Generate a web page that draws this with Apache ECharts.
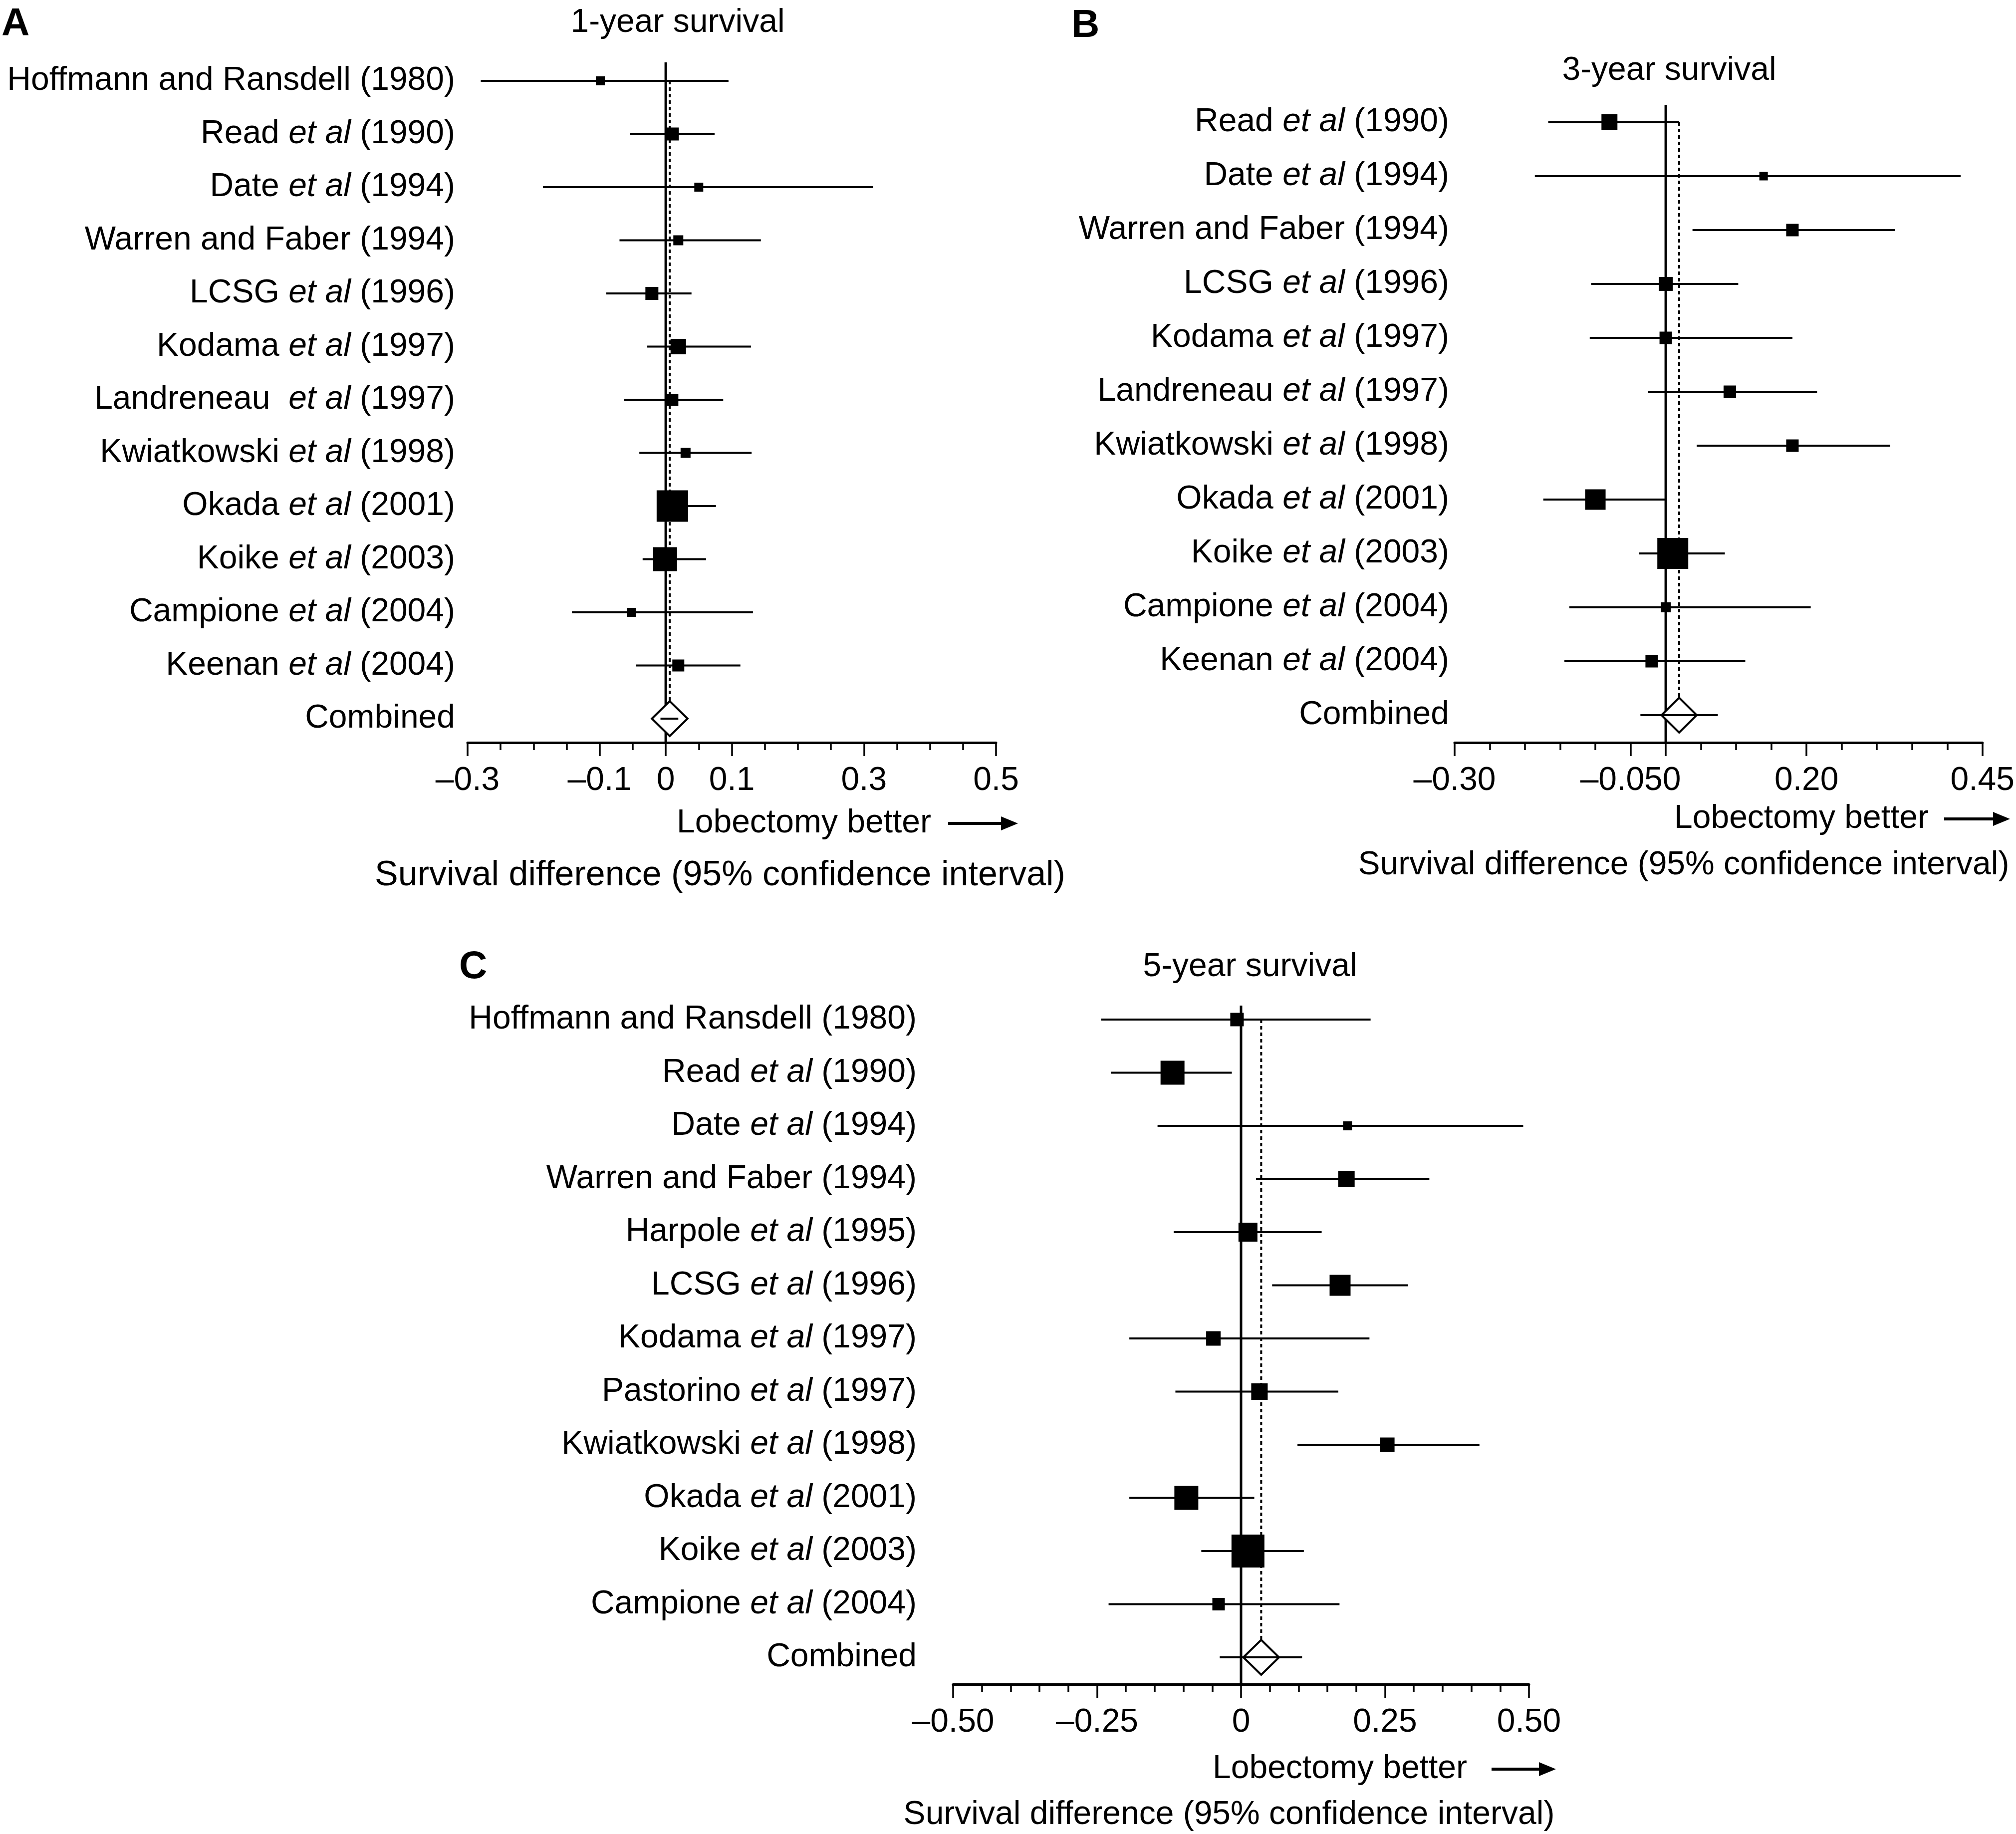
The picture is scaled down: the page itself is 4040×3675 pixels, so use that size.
<!DOCTYPE html>
<html><head><meta charset="utf-8">
<script src="https://cdn.jsdelivr.net/npm/echarts@6/dist/echarts.min.js"></script>
<style>html,body{margin:0;padding:0;background:#fff}#c{width:4040px;height:3675px}</style>
</head><body><div id="c"></div>
<script>
// ---------- Panel A: 1-year survival ----------
const studiesA = ['Hoffmann and Ransdell (1980)','Read et al (1990)','Date et al (1994)','Warren and Faber (1994)','LCSG et al (1996)','Kodama et al (1997)','Landreneau  et al (1997)','Kwiatkowski et al (1998)','Okada et al (2001)','Koike et al (2003)','Campione et al (2004)','Keenan et al (2004)','Combined'];
const estA    = [-0.099, 0.010, 0.050, 0.019, -0.021, 0.019, 0.010, 0.030, 0.010, -0.001, -0.052, 0.019];
const lowA    = [-0.280, -0.054, -0.186, -0.070, -0.090, -0.028, -0.063, -0.040, -0.012, -0.035, -0.142, -0.045];
const highA   = [0.095, 0.074, 0.314, 0.144, 0.039, 0.129, 0.087, 0.130, 0.076, 0.061, 0.132, 0.113];
const weightA = [18, 26, 18, 20, 26, 31, 24, 20, 63, 48, 18, 24];
// combined: estimate, diamond low, diamond high, line low, line high
const pooledA = [0.006, -0.021, 0.033, -0.008, 0.019];
const tickValsA = [-0.3, -0.1, 0, 0.1, 0.3, 0.5];
const tickLabelsA = ['\u20130.3', '\u20130.1', '0', '0.1', '0.3', '0.5'];
const majorTicksA = [-0.3, -0.1, 0, 0.1, 0.3, 0.5];

// ---------- Panel B: 3-year survival ----------
const studiesB = ['Read et al (1990)','Date et al (1994)','Warren and Faber (1994)','LCSG et al (1996)','Kodama et al (1997)','Landreneau et al (1997)','Kwiatkowski et al (1998)','Okada et al (2001)','Koike et al (2003)','Campione et al (2004)','Keenan et al (2004)','Combined'];
const estB    = [-0.080, 0.139, 0.180, 0.000, 0.000, 0.091, 0.180, -0.100, 0.010, 0.000, -0.020];
const lowB    = [-0.167, -0.186, 0.038, -0.106, -0.108, -0.025, 0.044, -0.174, -0.038, -0.137, -0.144];
const highB   = [0.019, 0.419, 0.326, 0.103, 0.180, 0.215, 0.319, 0.000, 0.084, 0.206, 0.113];
const weightB = [32, 17, 25, 28, 25, 25, 25, 41, 62, 20, 25];
const pooledB = [0.019, -0.006, 0.044, -0.036, 0.074];
const tickValsB = [-0.30, -0.05, 0.20, 0.45];
const tickLabelsB = ['\u20130.30', '\u20130.050', '0.20', '0.45'];
const majorTicksB = [-0.30, -0.05, 0, 0.20, 0.45];

// ---------- Panel C: 5-year survival ----------
const studiesC = ['Hoffmann and Ransdell (1980)','Read et al (1990)','Date et al (1994)','Warren and Faber (1994)','Harpole et al (1995)','LCSG et al (1996)','Kodama et al (1997)','Pastorino et al (1997)','Kwiatkowski et al (1998)','Okada et al (2001)','Koike et al (2003)','Campione et al (2004)','Combined'];
const estC    = [-0.007, -0.119, 0.185, 0.183, 0.012, 0.172, -0.048, 0.032, 0.254, -0.095, 0.012, -0.039];
const lowC    = [-0.243, -0.226, -0.145, 0.026, -0.117, 0.054, -0.194, -0.114, 0.098, -0.194, -0.069, -0.230];
const highC   = [0.225, -0.016, 0.490, 0.327, 0.140, 0.290, 0.223, 0.169, 0.414, 0.023, 0.109, 0.171];
const weightC = [27, 48, 18, 33, 38, 42, 29, 33, 29, 48, 66, 25];
const pooledC = [0.035, 0.004, 0.066, -0.037, 0.106];
const tickValsC = [-0.50, -0.25, 0, 0.25, 0.50];
const tickLabelsC = ['\u20130.50', '\u20130.25', '0', '0.25', '0.50'];
const majorTicksC = [-0.50, -0.25, 0, 0.25, 0.50];

// ---------- layout (pixels) ----------
const FONT = "'Liberation Sans', Arial, Helvetica, sans-serif";
const FS = 66;
const panels = [
  {key:'A', studies:studiesA, est:estA, low:lowA, high:highA, w:weightA, pooled:pooledA, xmin:-0.3, xmax:0.5,
   tickVals:tickValsA, tickLabels:tickLabelsA, major:majorTicksA,
   L:{left:937, right:1996, top:125, axisY:1488, row0:162, rowC:1440, labelRight:912}},
  {key:'B', studies:studiesB, est:estB, low:lowB, high:highB, w:weightB, pooled:pooledB, xmin:-0.3, xmax:0.45,
   tickVals:tickValsB, tickLabels:tickLabelsB, major:majorTicksB,
   L:{left:2915, right:3975, top:210, axisY:1488, row0:245, rowC:1433, labelRight:2904}},
  {key:'C', studies:studiesC, est:estC, low:lowC, high:highC, w:weightC, pooled:pooledC, xmin:-0.5, xmax:0.5,
   tickVals:tickValsC, tickLabels:tickLabelsC, major:majorTicksC,
   L:{left:1910, right:3064, top:2015, axisY:3375, row0:2043, rowC:3321, labelRight:1837}}
];

function richName(s) {
  if (s.indexOf('et al') < 0) return '{n|' + s + '}';
  const parts = s.split('et al');
  return '{n|' + parts[0] + '}{i|et al}{n|' + parts[1] + '}';
}

const option = {animation:false, backgroundColor:'#fff', grid:[], xAxis:[], yAxis:[], series:[], graphic:[]};

panels.forEach((p, gi) => {
  const L = p.L, n = p.studies.length - 1;
  const s = (L.rowC - L.row0) / n;
  const ymin = -(L.row0 - L.top) / s;
  const ymax = n + (L.axisY - L.rowC) / s;
  option.grid.push({left:L.left, top:L.top, width:L.right - L.left, height:L.axisY - L.top, containLabel:false});
  const xi = option.xAxis.length;
  option.xAxis.push({
    gridIndex:gi, type:'value', min:p.xmin, max:p.xmax, interval:0.05, position:'bottom',
    axisLine:{show:true, onZero:false, lineStyle:{color:'#000', width:5}},
    axisTick:{show:true, length:15, lineStyle:{color:'#000', width:3.5}},
    axisLabel:{show:false}, splitLine:{show:false}
  });
  option.xAxis.push({
    gridIndex:gi, type:'value', min:p.xmin, max:p.xmax, position:'bottom',
    axisLine:{show:false, onZero:false},
    axisTick:{show:true, customValues:p.major, length:27, lineStyle:{color:'#000', width:3.5}},
    axisLabel:{show:true, customValues:p.tickVals, margin:44, color:'#000', fontSize:FS, fontFamily:FONT,
      formatter:(v) => { const i = p.tickVals.findIndex(t => Math.abs(t - v) < 1e-6); return i >= 0 ? p.tickLabels[i] : ''; }},
    splitLine:{show:false}
  });
  const rows = p.studies.map((_, i) => i);
  option.yAxis.push({
    gridIndex:gi, type:'value', inverse:true, min:ymin, max:ymax,
    axisLine:{show:false, onZero:false}, axisTick:{show:false}, splitLine:{show:false},
    axisLabel:{show:true, customValues:rows, margin:L.left - L.labelRight, color:'#000',
      fontSize:FS, fontFamily:FONT,
      formatter:(v) => richName(p.studies[Math.round(v)]),
      rich:{n:{fontSize:FS, fontFamily:FONT, color:'#000'}, i:{fontSize:FS, fontFamily:FONT, fontStyle:'italic', color:'#000'}}}
  });
  // zero line
  option.series.push({
    type:'custom', xAxisIndex:xi, yAxisIndex:gi, z:1, silent:true, clip:false,
    data:[[0, ymin, ymax]], encode:{x:0, y:[1,2]},
    renderItem:(params, api) => {
      const a = api.coord([api.value(0), api.value(1)]);
      const b = api.coord([api.value(0), api.value(2)]);
      return {type:'line', shape:{x1:a[0], y1:a[1], x2:b[0], y2:b[1]}, style:{stroke:'#000', lineWidth:5}};
    }
  });
  // dotted pooled line
  option.series.push({
    type:'custom', xAxisIndex:xi, yAxisIndex:gi, z:2, silent:true, clip:false,
    data:[[p.pooled[0], 0, n]], encode:{x:0, y:[1,2]},
    renderItem:(params, api) => {
      const a = api.coord([api.value(0), api.value(1)]);
      const b = api.coord([api.value(0), api.value(2)]);
      return {type:'line', shape:{x1:a[0], y1:a[1], x2:b[0], y2:b[1]}, style:{stroke:'#000', lineWidth:4, lineDash:[7,6]}};
    }
  });
  // studies
  const sdata = p.est.map((e, i) => [e, p.low[i], p.high[i], i, p.w[i]]);
  option.series.push({
    type:'custom', xAxisIndex:xi, yAxisIndex:gi, z:3, silent:true, clip:false,
    data:sdata, encode:{x:[0,1,2], y:3},
    renderItem:(params, api) => {
      const row = api.value(3), sz = api.value(4);
      const pl = api.coord([api.value(1), row]), ph = api.coord([api.value(2), row]), pe = api.coord([api.value(0), row]);
      return {type:'group', children:[
        {type:'line', shape:{x1:pl[0], y1:pl[1], x2:ph[0], y2:ph[1]}, style:{stroke:'#000', lineWidth:4}},
        {type:'rect', shape:{x:pe[0]-sz/2, y:pe[1]-sz/2, width:sz, height:sz}, style:{fill:'#000'}}
      ]};
    }
  });
  // combined diamond
  option.series.push({
    type:'custom', xAxisIndex:xi, yAxisIndex:gi, z:4, silent:true, clip:false,
    data:[[p.pooled[0], p.pooled[1], p.pooled[2], p.pooled[3], p.pooled[4], n]], encode:{x:[0,1,2,3,4], y:5},
    renderItem:(params, api) => {
      const row = api.value(5), h = 35;
      const pe = api.coord([api.value(0), row]), pl = api.coord([api.value(1), row]), ph = api.coord([api.value(2), row]);
      const ll = api.coord([api.value(3), row]), lh = api.coord([api.value(4), row]);
      return {type:'group', children:[
        {type:'polygon', shape:{points:[[pl[0], pe[1]], [pe[0], pe[1]-h], [ph[0], pe[1]], [pe[0], pe[1]+h]]},
         style:{fill:'#fff', stroke:'#000', lineWidth:4}},
        {type:'line', shape:{x1:ll[0], y1:ll[1], x2:lh[0], y2:lh[1]}, style:{stroke:'#000', lineWidth:4}}
      ]};
    }
  });
});

// ---------- text decorations ----------
function txt(x, y, text, align, size) {
  return {type:'text', x:x, y:y, style:{text:text, fill:'#000', font:(size || FS) + 'px ' + FONT, textAlign:align, textVerticalAlign:'middle'}};
}
function letter(x, y, t) {
  return {type:'text', x:x, y:y, style:{text:t, fill:'#000', font:'bold 78px ' + FONT, textAlign:'left', textVerticalAlign:'middle'}};
}
function arrow(x1, x2, y) {
  return {type:'group', children:[
    {type:'line', shape:{x1:x1, y1:y, x2:x2 - 28, y2:y}, style:{stroke:'#000', lineWidth:6}},
    {type:'polygon', shape:{points:[[x2 - 34, y - 14], [x2, y], [x2 - 34, y + 14]]}, style:{fill:'#000'}}
  ]};
}
option.graphic = [
  letter(3, 49, 'A'), txt(1358, 46, '1-year survival', 'center'),
  txt(1866, 1650, 'Lobectomy better', 'right'), arrow(1900, 2040, 1650),
  txt(1443, 1755, 'Survival difference (95% confidence interval)', 'center', 70),
  letter(2147, 52, 'B'), txt(3345, 142, '3-year survival', 'center'),
  txt(3865, 1641, 'Lobectomy better', 'right'), arrow(3896, 4028, 1641),
  txt(3374, 1734, 'Survival difference (95% confidence interval)', 'center'),
  letter(920, 1938, 'C'), txt(2505, 1938, '5-year survival', 'center'),
  txt(2940, 3545, 'Lobectomy better', 'right'), arrow(2989, 3118, 3545),
  txt(2463, 3637, 'Survival difference (95% confidence interval)', 'center')
];

const chart = echarts.init(document.getElementById('c'), null, {renderer:'canvas', width:4040, height:3675});
chart.setOption(option);
</script>
</body></html>
